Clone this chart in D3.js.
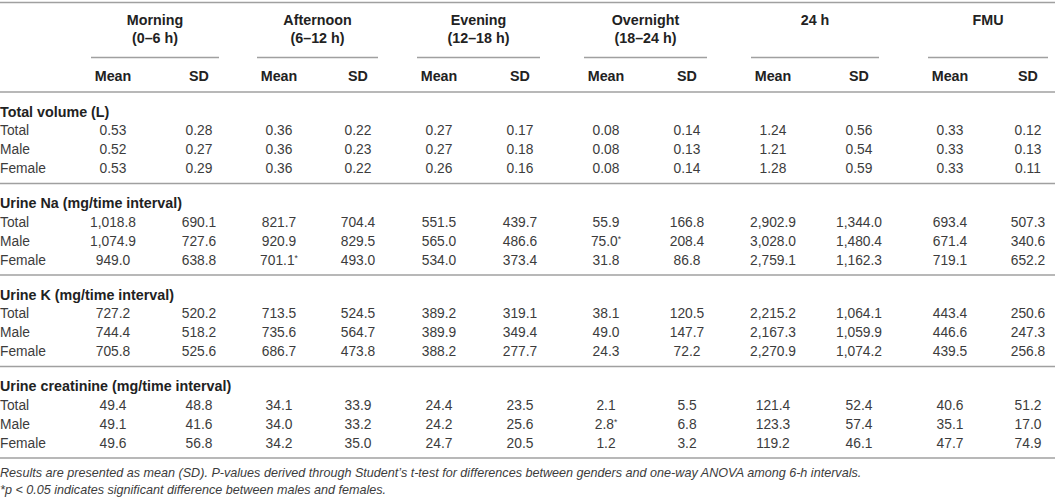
<!DOCTYPE html>
<html>
<head>
<meta charset="utf-8">
<script src="https://cdn.jsdelivr.net/npm/d3@7"></script>
<style>
	body { margin: 0; background: #fff; }
	svg { display: block; font-family: "Liberation Sans", Arial, sans-serif; }
</style>
</head>
<body>
<script>
// table content
const periods = ["Morning", "Afternoon", "Evening", "Overnight", "24 h", "FMU"];
const periodRanges = ["(0–6 h)", "(6–12 h)", "(12–18 h)", "(18–24 h)", "", ""];
const stats = ["Mean", "SD"];
const groups = ["Total", "Male", "Female"];
const sections = [
	"Total volume (L)",
	"Urine Na (mg/time interval)",
	"Urine K (mg/time interval)",
	"Urine creatinine (mg/time interval)"
];

// each row: Mean, SD for Morning, Afternoon, Evening, Overnight, 24 h, FMU
const totalVolume = [
	[0.53, 0.28, 0.36, 0.22, 0.27, 0.17, 0.08, 0.14, 1.24, 0.56, 0.33, 0.12],
	[0.52, 0.27, 0.36, 0.23, 0.27, 0.18, 0.08, 0.13, 1.21, 0.54, 0.33, 0.13],
	[0.53, 0.29, 0.36, 0.22, 0.26, 0.16, 0.08, 0.14, 1.28, 0.59, 0.33, 0.11]
];
const urineNa = [
	[1018.8, 690.1, 821.7, 704.4, 551.5, 439.7, 55.9, 166.8, 2902.9, 1344.0, 693.4, 507.3],
	[1074.9, 727.6, 920.9, 829.5, 565.0, 486.6, 75.0, 208.4, 3028.0, 1480.4, 671.4, 340.6],
	[949.0, 638.8, 701.1, 493.0, 534.0, 373.4, 31.8, 86.8, 2759.1, 1162.3, 719.1, 652.2]
];
const urineK = [
	[727.2, 520.2, 713.5, 524.5, 389.2, 319.1, 38.1, 120.5, 2215.2, 1064.1, 443.4, 250.6],
	[744.4, 518.2, 735.6, 564.7, 389.9, 349.4, 49.0, 147.7, 2167.3, 1059.9, 446.6, 247.3],
	[705.8, 525.6, 686.7, 473.8, 388.2, 277.7, 24.3, 72.2, 2270.9, 1074.2, 439.5, 256.8]
];
const urineCreatinine = [
	[49.4, 48.8, 34.1, 33.9, 24.4, 23.5, 2.1, 5.5, 121.4, 52.4, 40.6, 51.2],
	[49.1, 41.6, 34.0, 33.2, 24.2, 25.6, 2.8, 6.8, 123.3, 57.4, 35.1, 17.0],
	[49.6, 56.8, 34.2, 35.0, 24.7, 20.5, 1.2, 3.2, 119.2, 46.1, 47.7, 74.9]
];
// [section, group, column] of values marked with *
const significant = [[1, 2, 2], [1, 1, 6], [3, 1, 6]];

const footnotes = [
	"Results are presented as mean (SD). P-values derived through Student’s t-test for differences between genders and one-way ANOVA among 6-h intervals.",
	"*p < 0.05 indicates significant difference between males and females."
];

document.addEventListener("DOMContentLoaded", () => {
	const width = 1055;
	const height = 502;
	const lineColor = "#a0a0a0";
	const headColor = "#222";
	const textColor = "#3c3c3c";
	const boldSize = 14.3;
	const textSize = 13.8;

	const sectionData = [totalVolume, urineNa, urineK, urineCreatinine];
	const formats = [d3.format(".2f"), d3.format(",.1f"), d3.format(",.1f"), d3.format(",.1f")];

	let svg = d3.select("body")
		.append("svg")
		.attr("width", width)
		.attr("height", height);

	// column centres (Mean/SD per period)
	let colIdx = d3.range(periods.length * 2);
	let xScale = d3.scaleOrdinal()
		.domain(colIdx)
		.range([113, 199, 279, 358, 439, 520, 606, 687, 773, 859, 950, 1028]);

	// section blocks
	let yScale = d3.scaleLinear()
		.domain([0, sections.length])
		.range([92, 458]);
	let rowStep = 19;

	let groupLeft = (i) => xScale(i * 2) - 22;
	let groupRight = (i) => xScale(i * 2 + 1) + 20;

	// header
	svg.append("line")
		.attr("x1", 0).attr("x2", width)
		.attr("y1", 2.5).attr("y2", 2.5)
		.attr("stroke", lineColor).attr("stroke-width", 1.5);

	let head = svg.selectAll(".period")
		.data(periods)
		.enter()
		.append("g")
		.attr("class", "period");

	head.append("text")
		.attr("x", (d, i) => (groupLeft(i) + groupRight(i)) / 2)
		.attr("y", 20)
		.attr("dy", "0.35em")
		.attr("text-anchor", "middle")
		.attr("font-size", boldSize)
		.attr("font-weight", "bold")
		.attr("fill", headColor)
		.text((d) => d);

	head.append("text")
		.attr("x", (d, i) => (groupLeft(i) + groupRight(i)) / 2)
		.attr("y", 37.5)
		.attr("dy", "0.35em")
		.attr("text-anchor", "middle")
		.attr("font-size", boldSize)
		.attr("font-weight", "bold")
		.attr("fill", headColor)
		.text((d, i) => periodRanges[i]);

	head.append("line")
		.attr("x1", (d, i) => groupLeft(i))
		.attr("x2", (d, i) => groupRight(i))
		.attr("y1", 57.5).attr("y2", 57.5)
		.attr("stroke", lineColor).attr("stroke-width", 1.5);

	svg.selectAll(".stat")
		.data(colIdx)
		.enter()
		.append("text")
		.attr("class", "stat")
		.attr("x", (d) => xScale(d))
		.attr("y", 76)
		.attr("dy", "0.35em")
		.attr("text-anchor", "middle")
		.attr("font-size", boldSize)
		.attr("font-weight", "bold")
		.attr("fill", headColor)
		.text((d) => stats[d % 2]);

	// body sections
	let sec = svg.selectAll(".section")
		.data(sections)
		.enter()
		.append("g")
		.attr("class", "section")
		.attr("transform", (d, i) => "translate(0," + yScale(i) + ")");

	sec.append("line")
		.attr("x1", 0).attr("x2", width)
		.attr("y1", 0).attr("y2", 0)
		.attr("stroke", lineColor).attr("stroke-width", 1.5);

	sec.append("text")
		.attr("x", 0)
		.attr("y", 19.5)
		.attr("dy", "0.35em")
		.attr("font-size", boldSize)
		.attr("font-weight", "bold")
		.attr("fill", headColor)
		.text((d) => d);

	let rows = sec.selectAll(".row")
		.data((d, i) => sectionData[i].map((vals, j) => ({ s: i, g: j, vals: vals })))
		.enter()
		.append("g")
		.attr("class", "row")
		.attr("transform", (d) => "translate(0," + (38.5 + d.g * rowStep) + ")");

	rows.append("text")
		.attr("x", 0)
		.attr("dy", "0.35em")
		.attr("font-size", textSize)
		.attr("fill", textColor)
		.text((d) => groups[d.g]);

	let cells = rows.selectAll(".cell")
		.data((d) => d.vals.map((v, c) => ({ s: d.s, g: d.g, c: c, v: v })))
		.enter()
		.append("text")
		.attr("class", "cell")
		.attr("x", (d) => xScale(d.c))
		.attr("dy", "0.35em")
		.attr("text-anchor", "middle")
		.attr("font-size", textSize)
		.attr("fill", textColor);

	cells.append("tspan").text((d) => formats[d.s](d.v));
	cells.filter((d) => significant.some((m) => m[0] === d.s && m[1] === d.g && m[2] === d.c))
		.append("tspan")
		.attr("font-size", 8.5)
		.attr("dy", "-0.45em")
		.text("*");

	// bottom rule
	svg.append("line")
		.attr("x1", 0).attr("x2", width)
		.attr("y1", yScale(sections.length)).attr("y2", yScale(sections.length))
		.attr("stroke", lineColor).attr("stroke-width", 1.5);

	svg.selectAll(".note")
		.data(footnotes)
		.enter()
		.append("text")
		.attr("class", "note")
		.attr("x", 0)
		.attr("y", (d, i) => 473 + i * 16.5)
		.attr("dy", "0.35em")
		.attr("font-size", 12.6)
		.attr("font-style", "italic")
		.attr("fill", textColor)
		.text((d) => d);
});
</script>
</body>
</html>
